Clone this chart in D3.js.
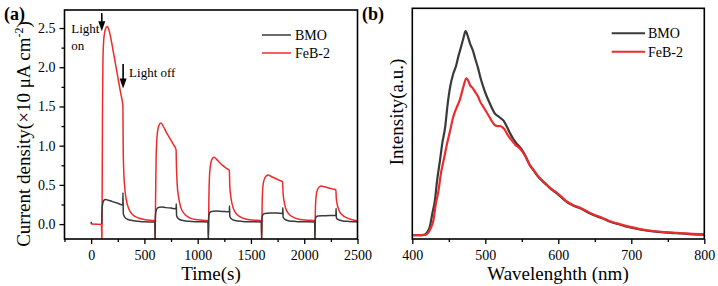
<!DOCTYPE html>
<html>
<head>
<meta charset="utf-8">
<script src="https://cdn.jsdelivr.net/npm/d3@7"></script>
<style>
  body { margin: 0; background: #fff; }
  text { font-family: "Liberation Serif", "Times New Roman", serif; fill: #000; }
</style>
</head>
<body>
<svg id="chart"></svg>
<script>
// (a) photocurrent, [time s, current x10 uA/cm2]; null = gap in the trace
const bmoCurrent = [
  [0, 0.03], [3, 0.0], [4, null], [99, 0.0], [101, 0.12], [106, 0.24], [118, 0.3], [135, 0.315], [160, 0.305],
  [200, 0.287], [250, 0.265], [297, 0.245], [299, 0.4], [302, 0.13], [315, 0.09], [340, 0.062],
  [400, 0.042], [500, 0.03], [598, 0.026],
  [600, -0.2], [603, 0.1], [612, 0.18], [630, 0.212], [660, 0.218], [700, 0.21], [750, 0.204],
  [797, 0.195], [799, 0.26], [802, 0.11], [815, 0.075], [850, 0.048], [920, 0.035], [1000, 0.03], [1098, 0.026],
  [1100, -0.2], [1103, 0.08], [1112, 0.145], [1130, 0.162], [1170, 0.166], [1230, 0.162],
  [1297, 0.158], [1299, 0.23], [1302, 0.1], [1315, 0.068], [1350, 0.045], [1420, 0.034], [1500, 0.03], [1598, 0.026],
  [1600, -0.2], [1603, 0.07], [1612, 0.12], [1630, 0.134], [1680, 0.14], [1740, 0.14],
  [1797, 0.136], [1799, 0.21], [1802, 0.09], [1815, 0.064], [1850, 0.044], [1920, 0.034], [2000, 0.03], [2098, 0.026],
  [2100, -0.2], [2103, 0.05], [2112, 0.09], [2130, 0.102], [2180, 0.106], [2240, 0.11],
  [2297, 0.11], [2299, 0.2], [2302, 0.08], [2315, 0.06], [2350, 0.044], [2420, 0.034], [2500, 0.03]
];
const febCurrent = [
  [0, 0.0], [97, -0.005], [101, -0.2], [104, 0.6], [107, 1.5], [111, 2.1], [120, 2.38], [135, 2.49],
  [152, 2.52], [168, 2.47], [185, 2.37], [205, 2.22], [230, 2.03], [255, 1.84], [280, 1.65],
  [298, 1.51], [301, 0.95], [306, 0.68], [315, 0.47], [330, 0.31], [355, 0.19], [390, 0.12],
  [440, 0.08], [510, 0.056], [598, 0.045],
  [601, -0.2], [605, 0.35], [610, 0.85], [620, 1.14], [635, 1.255], [655, 1.29], [680, 1.24],
  [710, 1.16], [740, 1.09], [770, 1.02], [797, 0.95], [801, 0.72], [808, 0.5], [820, 0.35],
  [840, 0.22], [875, 0.13], [925, 0.08], [1000, 0.055], [1098, 0.042],
  [1101, -0.2], [1105, 0.3], [1112, 0.64], [1125, 0.79], [1140, 0.84], [1155, 0.852], [1180, 0.822],
  [1210, 0.78], [1240, 0.742], [1270, 0.71], [1297, 0.685], [1301, 0.5], [1310, 0.36], [1325, 0.245],
  [1350, 0.155], [1395, 0.095], [1460, 0.062], [1530, 0.05], [1598, 0.044],
  [1601, -0.2], [1605, 0.25], [1612, 0.48], [1625, 0.57], [1645, 0.615], [1662, 0.626], [1690, 0.607],
  [1730, 0.582], [1770, 0.558], [1797, 0.54], [1801, 0.4], [1810, 0.3], [1825, 0.205], [1855, 0.13],
  [1900, 0.085], [1960, 0.06], [2030, 0.05], [2098, 0.044],
  [2101, -0.2], [2105, 0.2], [2112, 0.36], [2125, 0.44], [2145, 0.478], [2160, 0.486], [2190, 0.476],
  [2230, 0.46], [2270, 0.446], [2297, 0.435], [2301, 0.33], [2310, 0.25], [2325, 0.18], [2355, 0.12],
  [2400, 0.08], [2450, 0.056], [2500, 0.04]
];

// (b) PL spectra, [wavelength nm, intensity a.u.]
const bmoPL = [
  [400, 0.003], [410, 0.003], [415, 0.004], [418, 0.008], [421, 0.02], [424, 0.044], [427, 0.1], [431, 0.174],
  [434, 0.27], [438, 0.37], [441, 0.45], [445, 0.53], [448, 0.63], [452, 0.73], [456, 0.79], [460, 0.83],
  [463, 0.875], [467, 0.925], [470, 0.965], [473, 1.0], [476, 0.975], [479, 0.94], [483, 0.905], [486, 0.867],
  [490, 0.82], [493, 0.777], [497, 0.73], [502, 0.68], [507, 0.64], [513, 0.598], [519, 0.58], [525, 0.562],
  [530, 0.53], [534, 0.5], [538, 0.475], [543, 0.45], [548, 0.43], [552, 0.41], [557, 0.375], [561, 0.345],
  [566, 0.32], [572, 0.29], [578, 0.268], [584, 0.248], [591, 0.225], [598, 0.207], [605, 0.185], [611, 0.166],
  [620, 0.148], [630, 0.134], [640, 0.115], [648, 0.101], [660, 0.085], [671, 0.068], [683, 0.056], [694, 0.044],
  [705, 0.036], [716, 0.028], [730, 0.021], [745, 0.016], [762, 0.012], [780, 0.008], [800, 0.005]
];
const febPL = [
  [400, 0.003], [415, 0.003], [419, 0.006], [422, 0.015], [425, 0.035], [429, 0.077], [432, 0.15], [436, 0.223],
  [439, 0.3], [443, 0.37], [447, 0.44], [452, 0.516], [456, 0.58], [460, 0.62], [465, 0.663], [470, 0.728],
  [474, 0.769], [477, 0.755], [479, 0.736], [483, 0.72], [486, 0.703], [490, 0.68], [493, 0.655], [498, 0.625],
  [504, 0.59], [508, 0.565], [513, 0.54], [517, 0.535], [520, 0.536], [524, 0.528], [527, 0.516], [531, 0.49],
  [536, 0.467], [541, 0.445], [547, 0.427], [554, 0.394], [561, 0.345], [566, 0.322], [572, 0.292], [578, 0.27],
  [584, 0.25], [591, 0.228], [598, 0.21], [605, 0.188], [611, 0.169], [620, 0.15], [630, 0.137], [640, 0.118],
  [648, 0.104], [660, 0.088], [671, 0.071], [683, 0.058], [694, 0.047], [705, 0.038], [716, 0.03], [730, 0.023],
  [745, 0.018], [762, 0.014], [780, 0.01], [800, 0.007]
];

const seriesNames = ["BMO", "FeB-2"];
const timeTicks = [0, 500, 1000, 1500, 2000, 2500];
const currentTicks = [0, 0.5, 1.0, 1.5, 2.0, 2.5];
const waveTicks = [400, 500, 600, 700, 800];
const lightMarks = [
  { t: 100, from: 2.69, to: 2.46, label: ["Light", "on"] },
  { t: 300, from: 2.04, to: 1.73, label: ["Light off"] }
];

const colors = { "BMO": "#3a3a3a", "FeB-2": "#ee2b2b" };

const width = 718, height = 286;
const svg = d3.select("#chart").attr("width", width).attr("height", height);

// ---------- panel (a) ----------
const xa = d3.scaleLinear().domain([-250, 2500]).range([64.5, 357.5]);
const ya = d3.scaleLinear().domain([-0.19, 2.73]).range([239, 10]);

svg.append("clipPath").attr("id", "clipA").append("rect")
    .attr("x", 64.5).attr("y", 10).attr("width", 293).attr("height", 229);

const lineA = d3.line()
    .defined(d => d[1] !== null)
    .x(d => xa(d[0])).y(d => ya(d[1]))
    .curve(d3.curveMonotoneX);

const ga = svg.append("g").attr("clip-path", "url(#clipA)");
ga.append("path").datum(febCurrent)
    .attr("d", lineA).attr("fill", "none").attr("stroke", colors["FeB-2"]).attr("stroke-width", 1.5);
ga.append("path").datum(bmoCurrent)
    .attr("d", lineA).attr("fill", "none").attr("stroke", colors["BMO"]).attr("stroke-width", 1.5);

// axes (a)
svg.append("g").attr("transform", "translate(0,239)")
    .call(d3.axisBottom(xa).tickValues(d3.range(-250, 2501, 500)).tickSize(3).tickFormat("").tickSizeOuter(0))
    .call(g => g.select(".domain").remove());
svg.append("g").attr("transform", "translate(0,239)")
    .call(d3.axisBottom(xa).tickValues(timeTicks).tickSize(5).tickPadding(6).tickFormat(d3.format("d")).tickSizeOuter(0))
    .call(g => g.select(".domain").remove());
svg.append("g").attr("transform", "translate(64.5,0)")
    .call(d3.axisLeft(ya).tickValues(d3.range(0.25, 2.6, 0.5)).tickSize(3).tickFormat("").tickSizeOuter(0))
    .call(g => g.select(".domain").remove());
svg.append("g").attr("transform", "translate(64.5,0)")
    .call(d3.axisLeft(ya).tickValues(currentTicks).tickSize(5).tickPadding(4).tickFormat(d3.format(".1f")).tickSizeOuter(0))
    .call(g => g.select(".domain").remove());

svg.append("rect").attr("x", 64.5).attr("y", 10).attr("width", 293).attr("height", 229)
    .attr("fill", "none").attr("stroke", "#000").attr("stroke-width", 1.6);

// light on/off arrows
lightMarks.forEach((m, i) => {
  const x = xa(m.t), y0 = ya(m.from), y1 = ya(m.to);
  svg.append("line").attr("x1", x).attr("x2", x).attr("y1", y0).attr("y2", y1 - 8)
      .attr("stroke", "#000").attr("stroke-width", 1.6);
  svg.append("path").attr("d", `M${x - 3.5},${y1 - 10}L${x + 3.5},${y1 - 10}L${x},${y1}Z`).attr("fill", "#000");
  if (i === 0) {
    svg.append("text").attr("x", x - 30.5).attr("y", 33).attr("font-size", 13).text(m.label[0]);
    svg.append("text").attr("x", x - 30.5).attr("y", 50).attr("font-size", 13).text(m.label[1]);
  } else {
    svg.append("text").attr("x", x + 6).attr("y", 77).attr("font-size", 13).text(m.label[0]);
  }
});

// legend (a)
seriesNames.forEach((s, i) => {
  const y = 35 + i * 18;
  svg.append("line").attr("x1", 262).attr("x2", 291).attr("y1", y).attr("y2", y)
      .attr("stroke", colors[s]).attr("stroke-width", 1.5);
  svg.append("text").attr("x", 295).attr("y", y).attr("dy", "0.35em").attr("font-size", 14).text(s);
});

svg.append("text").attr("x", 211).attr("y", 280).attr("text-anchor", "middle").attr("font-size", 19).text("Time(s)");
svg.append("text").attr("transform", "translate(30,134) rotate(-90)").attr("text-anchor", "middle")
    .attr("font-size", 19)
    .html('Current density(×10 μA cm<tspan dy="-7" font-size="12">-2</tspan><tspan dy="7">)</tspan>');
svg.append("text").attr("x", 4).attr("y", 20).attr("font-size", 18).attr("font-weight", "bold").text("(a)");

// ---------- panel (b) ----------
const xb = d3.scaleLinear().domain([400, 800]).range([412.3, 704.3]);
const yb = d3.scaleLinear().domain([-0.016, 1.111]).range([239, 8.3]);

const lineB = d3.line().x(d => xb(d[0])).y(d => yb(d[1])).curve(d3.curveMonotoneX);
svg.append("path").datum(bmoPL)
    .attr("d", lineB).attr("fill", "none").attr("stroke", colors["BMO"]).attr("stroke-width", 2.2);
svg.append("path").datum(febPL)
    .attr("d", lineB).attr("fill", "none").attr("stroke", colors["FeB-2"]).attr("stroke-width", 2.2);

svg.append("g").attr("transform", "translate(0,239)")
    .call(d3.axisBottom(xb).tickValues(d3.range(450, 800, 100)).tickSize(3).tickFormat("").tickSizeOuter(0))
    .call(g => g.select(".domain").remove());
svg.append("g").attr("transform", "translate(0,239)")
    .call(d3.axisBottom(xb).tickValues(waveTicks).tickSize(5).tickPadding(6).tickFormat(d3.format("d")).tickSizeOuter(0))
    .call(g => g.select(".domain").remove());

svg.append("rect").attr("x", 412.3).attr("y", 8.3).attr("width", 292).attr("height", 230.7)
    .attr("fill", "none").attr("stroke", "#000").attr("stroke-width", 1.6);

seriesNames.forEach((s, i) => {
  const y = 33.3 + i * 18.4;
  svg.append("line").attr("x1", 611.7).attr("x2", 645).attr("y1", y).attr("y2", y)
      .attr("stroke", colors[s]).attr("stroke-width", 2);
  svg.append("text").attr("x", 648).attr("y", y).attr("dy", "0.35em").attr("font-size", 14).text(s);
});

svg.append("text").attr("x", 558).attr("y", 280).attr("text-anchor", "middle").attr("font-size", 19).text("Wavelenghth (nm)");
svg.append("text").attr("transform", "translate(403,112) rotate(-90)").attr("text-anchor", "middle")
    .attr("font-size", 19).text("Intensity(a.u.)");
svg.append("text").attr("x", 362).attr("y", 20).attr("font-size", 18).attr("font-weight", "bold").text("(b)");

svg.selectAll(".tick text").attr("font-size", 14).attr("font-family", "Liberation Serif").attr("fill", "#000");
svg.selectAll(".tick line").attr("stroke", "#000").attr("stroke-width", 1.3);
</script>
</body>
</html>
